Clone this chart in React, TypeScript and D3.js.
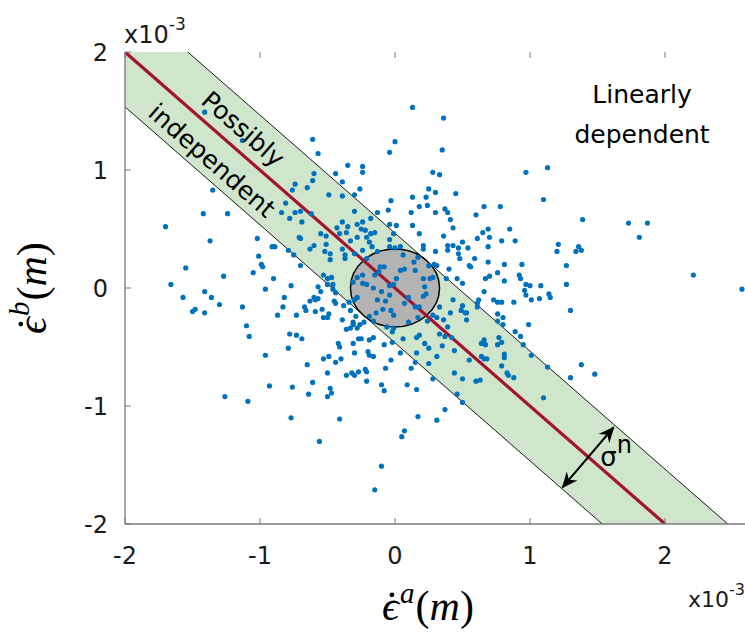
import React, { useLayoutEffect, useRef, useState } from 'react';
import * as d3 from 'd3';

const xTicks = [-2, -1, 0, 1, 2];
const yTicks = [-2, -1, 0, 1, 2];
const xTickLabels = ['-2', '-1', '0', '1', '2'];
const yTickLabels = ['-2', '-1', '0', '1', '2'];
const xDomain = [-2, 2.6];
const yDomain = [-2, 2];
const bandHalf = 0.465;
const sigmaRadius = 0.33;
const arrowFrom = [1.24, -1.69];
const arrowTo = [1.62, -1.18];
const labelPossibly = [-1.126, 1.345];
const labelIndependent = [-1.356, 1.08];
const labelLinear = [1.83, 1.57];
const labelLinear2 = [1.83, 1.23];
const labelSigma = [1.52, -1.51];

const samples: [number, number][] = [
  [-1.41, 1.49], [-1.13, 1.25], [-0.61, 1.26], [-0.57, 1.14], [-0.35, 1.04], [-0.60, 0.97], [-0.44, 0.97],
  [-0.61, 0.91], [-0.39, 0.90], [-0.74, 0.88], [-0.65, 0.85], [-1.35, 0.83], [-0.76, 0.83], [-0.30, 0.79],
  [-0.49, 0.79], [-0.39, 0.78], [-0.81, 0.72], [-1.42, 0.63], [-1.24, 0.63], [-0.84, 0.64], [-0.74, 0.64],
  [-0.70, 0.65], [-0.62, 0.63], [-0.30, 0.65], [-0.78, 0.59], [-0.69, 0.56], [-0.39, 0.56], [-0.35, 0.52],
  [-0.43, 0.51], [-0.28, 0.54], [-1.70, 0.52], [-0.55, 0.46], [-0.51, 0.44], [-0.41, 0.46], [-0.36, 0.47],
  [-0.71, 0.43], [-0.70, 0.42], [-1.37, 0.40], [-1.02, 0.42], [-0.33, 0.40], [-0.28, 0.43], [-0.60, 0.36],
  [-0.51, 0.37], [-0.91, 0.35], [-0.89, 0.35], [-0.79, 0.32], [-0.63, 0.33], [-0.52, 0.31], [-0.39, 0.33],
  [-0.48, 0.29], [-0.37, 0.28], [-0.30, 0.29], [-0.75, 0.28], [-1.01, 0.27], [-0.48, 0.24], [-0.37, 0.25],
  [-0.99, 0.20], [-0.98, 0.18], [-0.70, 0.19], [-1.55, 0.17], [-1.05, 0.13], [-0.53, 0.11], [-0.47, 0.09],
  [-0.28, 0.09], [-1.27, 0.10], [-0.90, 0.08], [-0.50, 0.08], [-1.66, 0.03], [-0.77, 0.02], [-0.50, 0.03],
  [-0.46, 0.03], [-0.57, 0.01], [-0.96, -0.01], [-0.55, -0.03], [-1.41, -0.03], [-0.46, -0.01], [-0.44, -0.04],
  [0.13, 1.53], [0.36, 1.44], [0.00, 1.24], [-0.04, 1.15], [0.35, 1.17], [-0.24, 1.03], [-0.24, 0.98],
  [0.28, 0.98], [0.33, 0.96], [0.97, 0.98], [1.13, 1.02], [-0.26, 0.84], [0.25, 0.84], [0.30, 0.81],
  [0.45, 0.80], [0.13, 0.77], [0.23, 0.77], [1.10, 0.75], [-0.03, 0.74], [0.18, 0.69], [0.24, 0.70],
  [-0.05, 0.66], [0.12, 0.64], [0.30, 0.64], [0.37, 0.67], [0.39, 0.64], [0.66, 0.69], [0.78, 0.69],
  [0.60, 0.62], [-0.13, 0.64], [-0.18, 0.59], [-0.24, 0.56], [0.41, 0.58], [-0.04, 0.54], [0.01, 0.53],
  [0.13, 0.53], [0.43, 0.51], [0.69, 0.50], [0.65, 0.47], [0.85, 0.50], [-0.25, 0.50], [-0.22, 0.49],
  [-0.15, 0.47], [-0.18, 0.46], [0.18, 0.46], [0.36, 0.44], [0.61, 0.42], [0.70, 0.43], [0.79, 0.40],
  [0.89, 0.40], [1.21, 0.37], [1.20, 0.31], [-0.21, 0.43], [-0.19, 0.39], [-0.04, 0.41], [-0.01, 0.46],
  [0.50, 0.39], [-0.24, 0.32], [-0.17, 0.35], [-0.04, 0.35], [0.00, 0.34], [0.04, 0.35], [0.21, 0.36],
  [0.21, 0.33], [0.30, 0.31], [0.39, 0.32], [0.39, 0.36], [0.43, 0.36], [0.47, 0.34], [0.54, 0.34],
  [0.47, 0.29], [0.48, 0.25], [0.69, 0.35], [0.69, 0.22], [0.59, 0.25], [0.06, 0.28], [-0.21, 0.25],
  [-0.13, 0.31], [0.55, 0.19], [0.56, 0.18], [0.81, 0.20], [0.94, 0.20], [0.40, 0.16], [0.29, 0.20],
  [0.31, 0.19], [0.25, 0.19], [0.14, 0.22], [-0.08, 0.18], [0.07, 0.16], [0.15, 0.15], [-0.15, 0.11],
  [-0.12, 0.14], [0.46, 0.08], [0.50, 0.04], [0.38, 0.08], [0.28, 0.09], [0.21, 0.08], [0.22, 0.01],
  [0.67, 0.08], [0.70, 0.10], [0.76, 0.13], [0.81, 0.06], [0.92, 0.11], [0.93, 0.08], [0.97, 0.03],
  [1.00, 0.02], [1.08, 0.02], [1.14, -0.05], [0.96, -0.02], [0.66, -0.03], [0.01, 0.08], [-0.01, 0.03],
  [-0.04, 0.02], [-0.10, -0.03], [-0.16, 0.00], [-0.24, 0.11], [-0.24, 0.04], [-0.21, 0.03], [0.23, -0.05],
  [1.39, 0.58], [1.73, 0.55], [1.87, 0.55], [1.81, 0.43], [1.36, 0.35], [1.34, 0.31], [1.38, 0.32],
  [1.27, 0.19], [1.27, 0.03], [2.21, 0.11], [2.57, -0.01],
  [-1.57, -0.08], [-1.36, -0.08], [-1.30, -0.14], [-1.48, -0.18], [-1.50, -0.20], [-1.41, -0.21], [-1.13, -0.16],
  [-0.82, -0.08], [-0.83, -0.16], [-0.87, -0.23], [-0.73, -0.23], [-0.67, -0.16], [-0.66, -0.19], [-0.63, -0.11],
  [-0.60, -0.08], [-0.59, -0.10], [-0.57, -0.09], [-0.59, -0.20], [-0.54, -0.18], [-0.53, -0.25], [-0.50, -0.25],
  [-0.49, -0.22], [-0.45, -0.11], [-0.44, -0.13], [-0.38, -0.15], [-0.34, -0.12], [-0.33, -0.19], [-0.28, -0.08],
  [-0.29, -0.24], [-0.39, -0.27], [-0.31, -0.29], [-0.31, -0.31], [-0.36, -0.35], [-0.33, -0.34], [-0.28, -0.34],
  [-1.10, -0.32], [-1.08, -0.41], [-0.78, -0.39], [-0.73, -0.40], [-0.69, -0.43], [-0.79, -0.51], [-0.42, -0.47],
  [-0.41, -0.50], [-0.31, -0.47], [-0.27, -0.43], [-0.30, -0.55], [-0.96, -0.57], [-0.53, -0.60], [-0.49, -0.58],
  [-0.44, -0.63], [-0.40, -0.60], [-0.65, -0.65], [-0.50, -0.72], [-0.36, -0.74], [-0.32, -0.72], [-0.30, -0.74],
  [-0.27, -0.71], [-0.61, -0.80], [-0.93, -0.83], [-0.76, -0.84], [-0.48, -0.85], [-0.47, -0.89], [-0.50, -0.92],
  [-0.64, -0.90], [-1.26, -0.92], [-1.09, -0.96], [-0.77, -1.10], [-0.41, -1.11], [-0.56, -1.30],
  [-0.13, -0.10], [-0.04, -0.06], [0.21, -0.07], [-0.09, -0.18], [-0.03, -0.19], [-0.01, -0.23], [-0.14, -0.21],
  [-0.19, -0.24], [-0.23, -0.29], [-0.26, -0.31], [-0.16, -0.28], [-0.06, -0.33], [-0.01, -0.34], [-0.02, -0.37],
  [0.10, -0.29], [0.15, -0.16], [0.17, -0.25], [0.24, -0.28], [0.28, -0.23], [0.31, -0.25], [0.33, -0.16],
  [0.36, -0.27], [0.39, -0.33], [0.41, -0.21], [0.43, -0.10], [0.49, -0.19], [0.50, -0.15], [0.52, -0.21],
  [0.53, -0.21], [0.53, -0.27], [0.61, -0.13], [0.61, -0.16], [0.62, -0.10], [0.73, -0.10], [0.76, -0.12],
  [0.79, -0.12], [0.88, -0.12], [0.97, -0.06], [1.01, -0.10], [1.07, -0.09], [1.15, -0.08], [0.76, -0.22],
  [0.80, -0.25], [0.76, -0.28], [0.80, -0.31], [0.99, -0.31], [0.89, -0.37], [0.93, -0.41], [0.77, -0.42],
  [0.66, -0.44], [0.79, -0.46], [0.64, -0.47], [0.67, -0.48], [0.76, -0.48], [0.95, -0.48], [0.81, -0.56],
  [0.81, -0.59], [1.01, -0.57], [0.64, -0.58], [0.66, -0.60], [0.68, -0.60], [0.55, -0.61], [0.44, -0.53],
  [0.35, -0.49], [0.37, -0.41], [0.42, -0.42], [0.33, -0.39], [0.22, -0.47], [0.25, -0.51], [0.16, -0.42],
  [0.18, -0.40], [0.06, -0.43], [-0.02, -0.46], [0.04, -0.55], [0.16, -0.55], [0.31, -0.58], [0.25, -0.64],
  [0.12, -0.68], [0.15, -0.63], [-0.03, -0.61], [-0.07, -0.68], [-0.16, -0.58], [-0.20, -0.54], [-0.19, -0.57],
  [-0.08, -0.48], [-0.16, -0.42], [-0.19, -0.44], [-0.25, -0.43], [-0.22, -0.69], [-0.21, -0.71], [-0.21, -0.79],
  [-0.10, -0.82], [-0.08, -0.87], [0.09, -0.82], [0.16, -0.86], [0.28, -0.77], [0.44, -0.72], [0.50, -0.77],
  [0.60, -0.79], [0.63, -0.78], [0.79, -0.66], [0.83, -0.72], [0.84, -0.74], [0.88, -0.76], [1.13, -0.67],
  [1.10, -0.93], [0.46, -0.90], [0.50, -0.97], [0.37, -1.03], [0.17, -1.09], [0.31, -1.12], [0.07, -1.21],
  [0.05, -1.26], [-0.10, -1.51], [-0.15, -1.71],
  [1.30, -0.19], [1.38, -0.65], [1.48, -0.73], [1.30, -0.76],
  [0.17, 0.26], [-0.11, 0.18], [0.04, 0.15], [0.26, 0.08], [0.10, -0.08], [0.07, -0.13], [0.18, -0.16],
  [-0.30, -0.10], [-0.07, -0.11], [-0.31, 0.05],
];

const W = 745;
const H = 636;
const TITLE_FS = 42;

type Dot = { cx: number; cy: number } | null;

function AxisTitle({ sup, x, y, rotate }: { sup: string; x: number; y: number; rotate: number }) {
  const ref = useRef<SVGTextElement>(null);
  const [dot, setDot] = useState<Dot>(null);
  const serif = "'Liberation Serif', 'DejaVu Serif', serif";
  useLayoutEffect(() => {
    const el = ref.current;
    if (!el) return;
    try {
      const ext = el.getExtentOfChar(0);
      setDot({ cx: ext.x + ext.width * 0.58, cy: y - TITLE_FS * 0.6 });
    } catch (e) {
      setDot(null);
    }
  }, [x, y]);
  return (
    <g transform={`rotate(${rotate}, ${x}, ${y})`}>
      <text ref={ref} x={x} y={y} textAnchor="middle" fontFamily={serif} fontSize={TITLE_FS} fill="#000">
        <tspan fontStyle="italic">ϵ</tspan>
        <tspan fontStyle="italic" fontSize={29} dy={-17} dx={1}>{sup}</tspan>
        <tspan dy={17} dx={1}>(</tspan>
        <tspan fontStyle="italic">m</tspan>
        <tspan>)</tspan>
      </text>
      {dot && <circle cx={dot.cx} cy={dot.cy} r={2.4} fill="#000" />}
    </g>
  );
}

export default function App() {
  const x = d3.scaleLinear().domain(xDomain).range([125, 746]);
  const y = d3.scaleLinear().domain(yDomain).range([524, 52]);
  const angle = (Math.atan2(y(-1) - y(0), x(1) - x(0)) * 180) / Math.PI;

  const line = d3.line<number[]>().x((d) => x(d[0])).y((d) => y(d[1]));
  const yTop = yDomain[1];
  const yBot = yDomain[0];
  const xLeft = xDomain[0];
  const bandPoly = [
    [xLeft, yTop],
    [bandHalf - yTop, yTop],
    [bandHalf - yBot, yBot],
    [-bandHalf - yBot, yBot],
    [xLeft, -bandHalf - xLeft],
  ];
  const upperEdge = [
    [bandHalf - yTop, yTop],
    [bandHalf - yBot, yBot],
  ];
  const lowerEdge = [
    [xLeft, -bandHalf - xLeft],
    [-bandHalf - yBot, yBot],
  ];
  const redLine = [
    [-2, 2],
    [2, -2],
  ];

  const axisColor = '#7a7a7a';
  const sans = "'DejaVu Sans', sans-serif";

  const rx = x(sigmaRadius) - x(0);
  const ry = y(0) - y(sigmaRadius);

  return (
    <svg width={W} height={H} style={{ position: 'absolute', left: 0, top: 0, background: '#fff' }}>
      <defs>
        <clipPath id="plotClip">
          <rect x={x(xDomain[0])} y={y(yTop)} width={W - x(xDomain[0])} height={y(yBot) - y(yTop)} />
        </clipPath>
        <marker
          id="arrowHead"
          viewBox="-17 -8 19 16"
          markerWidth={19}
          markerHeight={16}
          refX={0}
          refY={0}
          orient="auto-start-reverse"
          markerUnits="userSpaceOnUse"
        >
          <path d="M1,0 L-15,-7 L-10,0 L-15,7 Z" fill="#000" />
        </marker>
      </defs>
      <rect width={W} height={H} fill="#fff" />
      <g clipPath="url(#plotClip)">
        <path d={line(bandPoly as number[][]) + 'Z'} fill="#cfe6cc" stroke="none" />
        <path d={line(upperEdge) || ''} stroke="#000" strokeWidth={0.9} fill="none" />
        <path d={line(lowerEdge) || ''} stroke="#000" strokeWidth={0.9} fill="none" />
        <ellipse cx={x(0)} cy={y(0)} rx={rx} ry={ry} fill="#b3b3b3" stroke="#000" strokeWidth={1.5} />
        <path d={line(redLine) || ''} stroke="#a2142f" strokeWidth={3.2} fill="none" />
        {samples.map((d, i) => (
          <circle key={i} cx={x(d[0])} cy={y(d[1])} r={2.6} fill="#0072bd" />
        ))}
      </g>

      <text
        x={x(labelPossibly[0])}
        y={y(labelPossibly[1])}
        transform={`rotate(${angle}, ${x(labelPossibly[0])}, ${y(labelPossibly[1])})`}
        textAnchor="middle"
        dominantBaseline="central"
        fontFamily={sans}
        fontSize={25}
        fill="#000"
      >
        Possibly
      </text>
      <text
        x={x(labelIndependent[0])}
        y={y(labelIndependent[1])}
        transform={`rotate(${angle}, ${x(labelIndependent[0])}, ${y(labelIndependent[1])})`}
        textAnchor="middle"
        dominantBaseline="central"
        fontFamily={sans}
        fontSize={25}
        fill="#000"
      >
        independent
      </text>
      <text x={x(labelLinear[0])} y={y(labelLinear[1])} textAnchor="middle" fontFamily={sans} fontSize={25} fill="#000">
        Linearly
      </text>
      <text x={x(labelLinear2[0])} y={y(labelLinear2[1])} textAnchor="middle" fontFamily={sans} fontSize={25} fill="#000">
        dependent
      </text>

      <line
        x1={x(arrowFrom[0])}
        y1={y(arrowFrom[1])}
        x2={x(arrowTo[0])}
        y2={y(arrowTo[1])}
        stroke="#000"
        strokeWidth={2}
        markerStart="url(#arrowHead)"
        markerEnd="url(#arrowHead)"
      />
      <text x={x(labelSigma[0])} y={y(labelSigma[1])} fontFamily={sans} fontSize={26} fill="#000">
        σ<tspan dy={-13} fontSize={24}>n</tspan>
      </text>

      <line x1={x(xDomain[0])} x2={W} y1={y(yBot)} y2={y(yBot)} stroke={axisColor} strokeWidth={1.3} />
      <line x1={x(xDomain[0])} x2={x(xDomain[0])} y1={y(yTop)} y2={y(yBot)} stroke={axisColor} strokeWidth={1.3} />
      {xTicks.map((t, i) => (
        <g key={'xt' + i}>
          <line x1={x(t)} x2={x(t)} y1={y(yBot)} y2={y(yBot) - 6} stroke={axisColor} strokeWidth={1} />
          <line x1={x(t)} x2={x(t)} y1={y(yTop)} y2={y(yTop) + 6} stroke={axisColor} strokeWidth={1} />
          <text x={x(t)} y={y(yBot) + 40} textAnchor="middle" fontFamily={sans} fontSize={24} fill="#1a1a1a">
            {xTickLabels[i]}
          </text>
        </g>
      ))}
      {yTicks.map((t, i) => (
        <g key={'yt' + i}>
          <line x1={x(xDomain[0])} x2={x(xDomain[0]) + 6} y1={y(t)} y2={y(t)} stroke={axisColor} strokeWidth={1} />
          <text x={108} y={y(t)} dy="0.36em" textAnchor="end" fontFamily={sans} fontSize={24} fill="#1a1a1a">
            {yTickLabels[i]}
          </text>
        </g>
      ))}

      <text x={124} y={43} fontFamily={sans} fontSize={24} fill="#1a1a1a">
        x10<tspan dy={-13} fontSize={17}>-3</tspan>
      </text>
      <text x={745} y={607} textAnchor="end" fontFamily={sans} fontSize={22} fill="#1a1a1a">
        x10<tspan dy={-12} fontSize={16}>-3</tspan>
      </text>

      <AxisTitle sup="a" x={428} y={620} rotate={0} />
      <AxisTitle sup="b" x={46} y={288} rotate={-90} />
    </svg>
  );
}
